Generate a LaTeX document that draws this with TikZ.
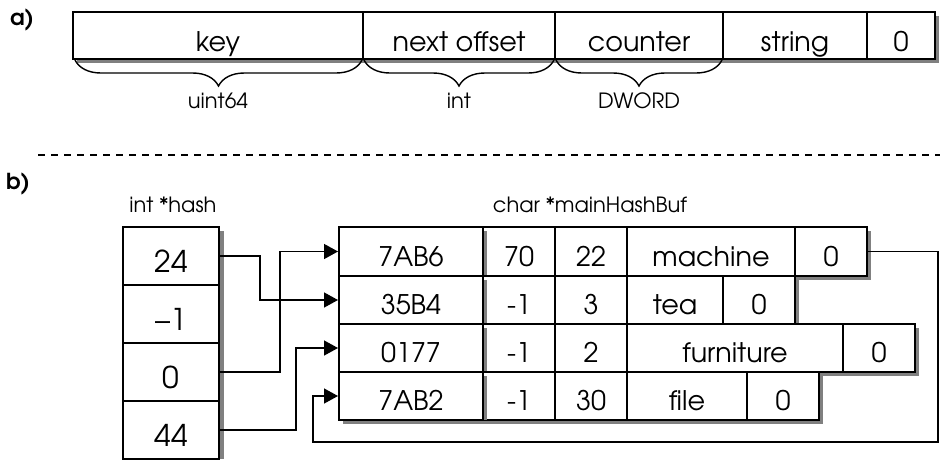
\documentclass[tikz,border=0pt]{standalone}
\usepackage{fontspec}
\setmainfont{TeX Gyre Adventor}
\usetikzlibrary{arrows.meta,decorations.pathreplacing}
\tikzset{
  cellbx/.style={draw, line width=2pt, fill=white, inner sep=0pt, text depth=0pt, text height=29pt, font=\fontsize{27}{30}\selectfont},
  acellbx/.style={cellbx, text height=31pt},
  hcellbx/.style={cellbx, text height=32pt, font=\fontsize{30}{34}\selectfont},
  linkarrow/.style={line width=1.4pt, -{Triangle[length=14pt,width=15pt]}},
  typelabel/.style={inner sep=0pt, anchor=base, font=\fontsize{21}{24}\selectfont},
  partlabel/.style={inner sep=0pt, anchor=base, font=\bfseries\fontsize{22}{24}\selectfont},
  bracedeco/.style={decorate, decoration={brace, mirror, amplitude=26pt}, line width=1.4pt},
  shadowstrip/.style={fill=black!50, draw=none},
}
\newcommand\cellbox[7]{\node[#1, minimum width={#5-#3}, minimum height={#6-#4}] (#2) at ({(#3+#5)/2},{(#4+#6)/2}) {#7};}
\newcommand\strip[4]{\fill[shadowstrip] (#1,#2) rectangle (#3,#4);}
\begin{document}
\begin{tikzpicture}[x=1pt,y=-1pt]
\useasboundingbox (0,0) rectangle (940,459);
% ---------- a)
\node[partlabel] (la) at (22,25) {a)};
\cellbox{acellbx}{ak}{73}{12}{363}{59}{key}
\cellbox{acellbx}{an}{363}{12}{555}{59}{next offset}
\cellbox{acellbx}{ac}{555}{12}{723}{59}{counter}
\cellbox{acellbx}{as}{723}{12}{867}{59}{string}
\cellbox{acellbx}{az}{867}{12}{935}{59}{0}
\strip{936}{16}{939}{63}
\strip{77}{60}{939}{63}
\draw[bracedeco] (75,60) -- (362,60);
\draw[bracedeco] (364,60) -- (554,60);
\draw[bracedeco] (556,60) -- (722,60);
\node[typelabel] (tu) at (218,108) {uint64};
\node[typelabel] (ti) at (459,108) {int};
\node[typelabel] (td) at (639,108) {DWORD};
% separator
\draw[line width=1.3pt, dash pattern=on 7pt off 6pt] (38,155) -- (940,155);
% ---------- b)
\node[partlabel] (lb) at (18,189) {b)};
\node[typelabel] (thash) at (173,212) {int *hash};
\node[typelabel] (tbuf) at (590,212) {char *mainHashBuf};
% hash column
\cellbox{hcellbx}{h1}{123}{227}{219}{285}{24}
\cellbox{hcellbx}{h2}{123}{285}{219}{343}{–1}
\cellbox{hcellbx}{h3}{123}{343}{219}{401}{0}
\cellbox{hcellbx}{h4}{123}{401}{219}{459}{44}
\strip{220}{231}{224}{459}
% row 1
\cellbox{cellbx}{r1n}{483}{227}{555}{276}{70}
\cellbox{cellbx}{r1c}{555}{227}{627}{276}{22}
\cellbox{cellbx}{r1s}{627}{227}{795}{276}{machine}
\cellbox{cellbx}{r1z}{795}{227}{867}{276}{0}
\cellbox{cellbx}{r1k}{339}{227}{483}{276}{7AB6}
% row 2
\cellbox{cellbx}{r2n}{483}{276}{555}{324}{-1}
\cellbox{cellbx}{r2c}{555}{276}{627}{324}{3}
\cellbox{cellbx}{r2s}{627}{276}{723}{324}{tea}
\cellbox{cellbx}{r2z}{723}{276}{795}{324}{0}
\cellbox{cellbx}{r2k}{339}{276}{483}{324}{35B4}
% row 3
\cellbox{cellbx}{r3n}{483}{324}{555}{372}{-1}
\cellbox{cellbx}{r3c}{555}{324}{627}{372}{2}
\cellbox{cellbx}{r3s}{627}{324}{843}{372}{furniture}
\cellbox{cellbx}{r3z}{843}{324}{915}{372}{0}
\cellbox{cellbx}{r3k}{339}{324}{483}{372}{0177}
% row 4
\cellbox{cellbx}{r4n}{483}{372}{555}{420}{-1}
\cellbox{cellbx}{r4c}{555}{372}{627}{420}{30}
\cellbox{cellbx}{r4s}{627}{372}{747}{420}{file}
\cellbox{cellbx}{r4z}{747}{372}{819}{420}{0}
\cellbox{cellbx}{r4k}{339}{372}{483}{420}{7AB2}
% buffer shadows (exposed parts)
\strip{868}{231}{871}{280}
\strip{796}{277}{871}{280}
\strip{796}{280}{799}{323}
\strip{916}{328}{919}{376}
\strip{820}{373}{919}{376}
\strip{820}{376}{823}{424}
\strip{343}{421}{823}{424}
\strip{484}{231}{487}{275}
\strip{484}{280}{487}{323}
\strip{484}{328}{487}{371}
\strip{484}{376}{487}{420}
% links
\coordinate (lc) at (938,442);
\coordinate (lb2) at (313,442);
\draw[linkarrow] (h1.east) -- ++(40,0) |- (r2k.west);
\draw[linkarrow] (h3.east) -- ++(60,0) |- (r1k.west);
\draw[linkarrow] (h4.east) -- ++(76,0) |- (r3k.west);
\draw[linkarrow] (r1z.east) -| (lc) -- (lb2) |- (r4k.west);
\end{tikzpicture}
\end{document}
